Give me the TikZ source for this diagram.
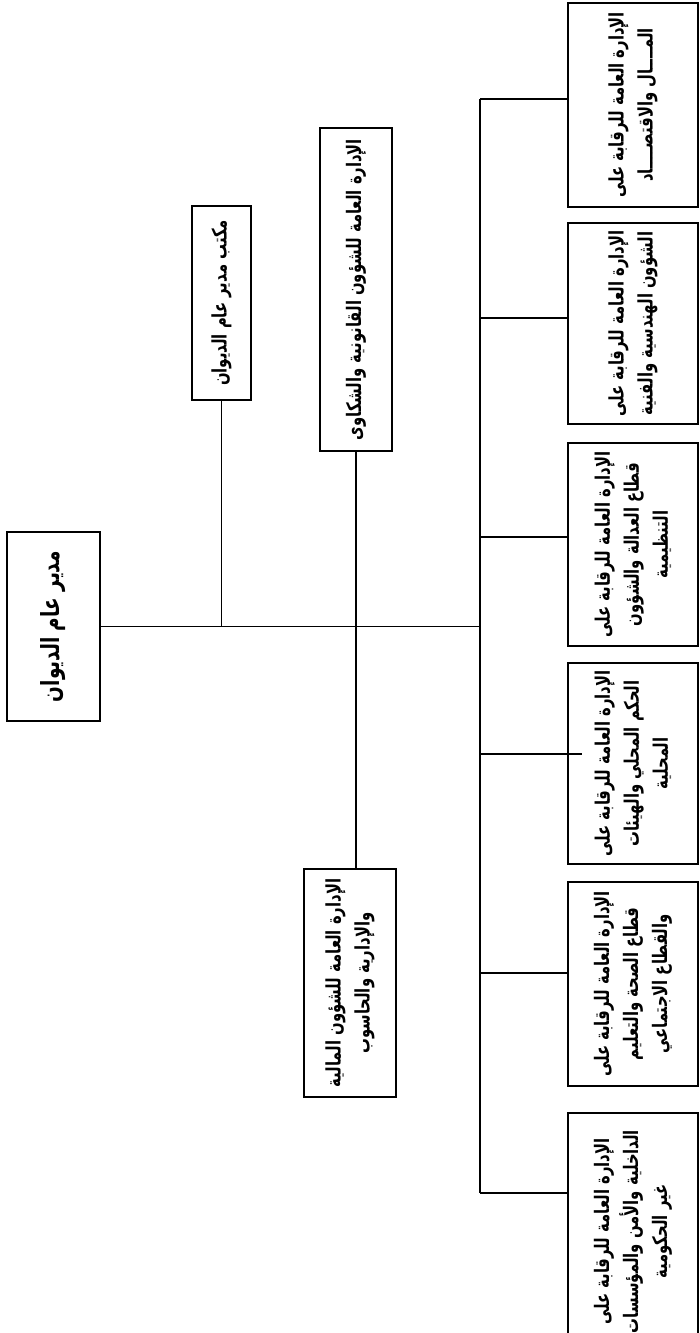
\documentclass[tikz,border=0pt]{standalone}
\usepackage{fontspec}
\usepackage{tikz}
\TeXXeTstate=1
\newfontfamily\arabicfont[Script=Arabic,FakeStretch=0.74]{DejaVu Sans}
\newcommand{\artext}[1]{{\arabicfont\bfseries\beginR #1\endR}}
\tikzstyle{unit} = [draw, line width=0.6pt, rotate=90, align=center, inner sep=2pt, font=\fontsize{10}{14.5}\selectfont]
\tikzstyle{link} = [line width=0.6pt]

\begin{document}
\begin{tikzpicture}[x=0.5pt, y=-0.5pt]
\useasboundingbox (0,0) rectangle (700,1333);
\clip (0,0) rectangle (700,1333);
% head and staff units
\node[unit, minimum width=94.5pt, minimum height=46.5pt, font=\fontsize{12.5}{14}\selectfont] (dir) at (53.5,626.5) {\artext{مدير عام الديوان}};
\node[unit, minimum width=97pt, minimum height=29.5pt] (off) at (221.5,303) {\artext{مكتب مدير عام الديوان}};
\node[unit, minimum width=161.5pt, minimum height=36pt] (legal) at (356,289.5) {\artext{الإدارة العامة للشؤون القانونية والشكاوى}};
\node[unit, minimum width=114pt, minimum height=46pt] (fin) at (350,983) {\artext{الإدارة العامة للشؤون المالية}\\\artext{والإدارية والحاسوب}};

% control departments
\node[unit, minimum width=102pt, minimum height=65pt] (b1) at (633,105) {\artext{الإدارة العامة للرقابة على}\\\artext{المــــال والاقتصــــاد}};
\node[unit, minimum width=100.5pt, minimum height=65pt] (b2) at (633,323.5) {\artext{الإدارة العامة للرقابة على}\\\artext{الشؤون الهندسية والفنية}};
\node[unit, minimum width=101.5pt, minimum height=65pt] (b3) at (633,544.5) {\artext{الإدارة العامة للرقابة على}\\\artext{قطاع العدالة والشؤون}\\\artext{التنظيمية}};
\node[unit, minimum width=100.5pt, minimum height=65pt] (b4) at (633,763.5) {\artext{الإدارة العامة للرقابة على}\\\artext{الحكم المحلي والهيئات}\\\artext{المحلية}};
\node[unit, minimum width=102pt, minimum height=65pt] (b5) at (633,984) {\artext{الإدارة العامة للرقابة على}\\\artext{قطاع الصحة والتعليم}\\\artext{والقطاع الاجتماعي}};
\node[unit, minimum width=118.5pt, minimum height=65pt] (b6) at (633,1231.5) {\artext{الإدارة العامة للرقابة على}\\\artext{الداخلية والأمن والمؤسسات}\\\artext{غير الحكومية}};

% connectors
\coordinate (spine) at (480,628);
\draw[link] (dir.south) -- (dir.south -| spine);
\draw[link] (off.west) -- (off.west |- dir.south);
\draw[link] (legal.west) -- (legal.west |- fin.east);
\coordinate (k1) at ([yshift=3pt]b1.north);
\coordinate (k2) at ([yshift=2.75pt]b2.north);
\coordinate (k3) at ([yshift=3.75pt]b3.north);
\coordinate (k4) at ([yshift=4.75pt]b4.north);
\coordinate (k5) at ([yshift=5.5pt]b5.north);
\coordinate (k6) at ([yshift=19.25pt]b6.north);
\draw[link] (k1 -| spine) -- (k6 -| spine);
\foreach \k in {k1,k2,k3,k5,k6}
  \draw[link] (\k -| spine) -- (\k);
\draw[link] (k4 -| spine) -- ([xshift=7.5pt]k4);
\end{tikzpicture}
\end{document}
